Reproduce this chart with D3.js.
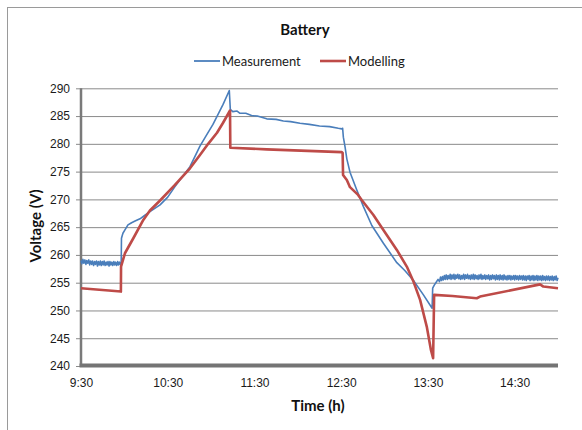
<!DOCTYPE html>
<html>
<head>
<meta charset="utf-8">
<script src="https://cdn.jsdelivr.net/npm/d3@7"></script>
<style>
  body { margin: 0; background: #fff; }
  svg { display: block; font-family: Lato, "Open Sans", sans-serif; }
</style>
</head>
<body>
<svg id="chart" width="582" height="430"></svg>
<script>
// Battery voltage over one day: measured trace vs. model output.
const chartTitle = "Battery";
const seriesNames = ["Measurement", "Modelling"];
const seriesColors = ["#4a7ebb", "#be4b48"];
const xTitle = "Time (h)";
const yTitle = "Voltage (V)";

// time is given in minutes after midnight
const timeDomain = [570, 900];
const timeTicks = [570, 630, 690, 750, 810, 870];
const voltDomain = [240, 290];
const voltTicks = [240, 245, 250, 255, 260, 265, 270, 275, 280, 285, 290];

// [minute, volts]
const measured = [
  [570, 259.0], [570.6, 258.4], [571.3, 259.2], [572, 258.5], [572.7, 259.1], [573.4, 258.3],
  [574, 259.0], [574.7, 258.5], [575.4, 259.1], [576, 258.2], [576.7, 258.9], [577.4, 258.3],
  [578, 258.9], [578.7, 258.1], [579.4, 258.8], [580, 258.3], [580.7, 258.9], [581.4, 258.0],
  [582, 258.8], [582.7, 258.2], [583.4, 258.9], [584, 258.1], [584.7, 258.8], [585.4, 258.2],
  [586, 258.9], [586.7, 258.1], [587.4, 258.7], [588, 258.2], [588.7, 258.8], [589.4, 258.0],
  [590, 258.8], [590.7, 258.2], [591.4, 258.7], [592, 258.1], [592.7, 258.8], [593.4, 258.2],
  [594, 258.7], [594.7, 258.1], [595.4, 258.8], [596, 258.2], [596.7, 258.7], [597.4, 258.2],
  [597.8, 258.4],
  [598.0, 263.0], [599.0, 263.9], [600.4, 264.5], [602.5, 265.4], [605.0, 265.8],
  [607.4, 266.1], [610.8, 266.5], [614, 267.1], [617.7, 267.8], [624.7, 269.0],
  [630, 270.4], [635, 272.3], [645.4, 275.9], [652.3, 279.6], [656, 281.2],
  [661.3, 283.5], [668.3, 287.1], [672.6, 289.6], [673.3, 286.2], [675, 285.8],
  [678, 285.9], [680, 285.5], [684, 285.5], [688, 285.1], [692, 285.0], [698.5, 284.5],
  [705, 284.4], [710, 284.1], [715, 284.0], [721.5, 283.7], [728, 283.5], [735, 283.2],
  [742, 283.1], [748, 282.8], [750.4, 282.7], [751.0, 282.8], [751.5, 281.2],
  [752.7, 279.4], [753.9, 277.3], [756.1, 274.9], [760.8, 271.7], [765.4, 268.7],
  [771.2, 265.3], [779.2, 262.1], [788.5, 258.6], [794, 257.2], [800, 255.4],
  [806.9, 252.8], [812.9, 250.4], [813.3, 254.0], [814.5, 254.6], [815.5, 255.0],
  [817, 255.6], [818, 255.2], [818.7, 256.0], [819.4, 255.4], [820, 256.1], [820.7, 255.5],
  [821.4, 256.3], [822, 255.6], [822.7, 256.4], [823.4, 255.6], [824, 256.3], [824.7, 255.7],
  [825.4, 256.5], [826, 255.6], [826.7, 256.4], [827.4, 255.7], [828, 256.5], [828.7, 255.6],
  [829.4, 256.4], [830, 255.8], [830.7, 256.5], [831.4, 255.7], [832, 256.4], [832.7, 255.6],
  [833.4, 256.3], [834, 255.7], [834.7, 256.5], [835.4, 255.6], [836, 256.4], [836.7, 255.8],
  [837.4, 256.5], [838, 255.7], [838.7, 256.3], [839.4, 255.6], [840, 256.4], [840.7, 255.7],
  [841.4, 256.5], [842, 255.6], [842.7, 256.4], [843.4, 255.7], [844, 256.3], [844.7, 255.6],
  [845.4, 256.4], [846, 255.7], [846.7, 256.5], [847.4, 255.6], [848, 256.3], [848.7, 255.7],
  [849.4, 256.4], [850, 255.6], [850.7, 256.3], [851.4, 255.7], [852, 256.4], [852.7, 255.5],
  [853.4, 256.3], [854, 255.6], [854.7, 256.4], [855.4, 255.7], [856, 256.3], [856.7, 255.5],
  [857.4, 256.4], [858, 255.6], [858.7, 256.3], [859.4, 255.5], [860, 256.4], [860.7, 255.6],
  [861.4, 256.3], [862, 255.5], [862.7, 256.4], [863.4, 255.6], [864, 256.2], [864.7, 255.5],
  [865.4, 256.3], [866, 255.6], [866.7, 256.3], [867.4, 255.5], [868, 256.2], [868.7, 255.6],
  [869.4, 256.3], [870, 255.5], [870.7, 256.3], [871.4, 255.6], [872, 256.2], [872.7, 255.5],
  [873.4, 256.3], [874, 255.6], [874.7, 256.2], [875.4, 255.5], [876, 256.3], [876.7, 255.5],
  [877.4, 256.2], [878, 255.4], [878.7, 256.2], [879.4, 255.6], [880, 256.3], [880.7, 255.4],
  [881.4, 256.2], [882, 255.5], [882.7, 256.3], [883.4, 255.4], [884, 256.2], [884.7, 255.5],
  [885.4, 256.3], [886, 255.4], [886.7, 256.2], [887.4, 255.5], [888, 256.2], [888.7, 255.4],
  [889.4, 256.3], [890, 255.5], [890.7, 256.1], [891.4, 255.4], [892, 256.2], [892.7, 255.5],
  [893.4, 256.2], [894, 255.4], [894.7, 256.1], [895.4, 255.5], [896, 256.2], [896.7, 255.4],
  [897.4, 256.1], [898, 255.5], [898.7, 256.2], [899.4, 255.4], [900, 255.9]
];

const modelled = [
  [570, 254.0], [597.6, 253.4], [597.7, 257.9], [600.4, 260.3], [606.2, 263.0],
  [613.1, 266.3], [617.7, 268.0], [624.7, 269.8], [635, 272.6], [645.4, 275.6],
  [652.3, 278.0], [658, 280.0], [664.1, 282.0], [668.3, 283.8], [673.1, 286.0], [673.3, 279.3],
  [698.5, 279.0], [750.4, 278.5], [751.0, 278.4], [751.3, 274.4], [753.9, 273.5],
  [756.1, 272.2], [761.7, 270.8], [764.2, 269.9], [772.3, 267.2], [779.2, 264.5],
  [788.5, 260.9], [795.4, 257.9], [800.0, 255.2], [804.6, 251.9], [809.2, 247.1],
  [812.0, 243.0], [813.6, 241.4], [814.3, 252.8], [827, 252.6], [843.8, 252.2],
  [846.1, 252.5], [887.6, 254.7], [889.9, 254.3], [900, 254.0]
];

const svg = d3.select("#chart");
const plotLeft = 81, plotRight = 558, plotTop = 88.3, plotBottom = 366;

const x = d3.scaleLinear().domain(timeDomain).range([plotLeft, plotRight]);
const y = d3.scaleLinear().domain(voltDomain).range([plotBottom, plotTop]);

const fmtTime = m => `${Math.floor(m / 60)}:${String(m % 60).padStart(2, "0")}`;

// outer chart frame
svg.append("rect")
  .attr("x", 7.5).attr("y", 7.5).attr("width", 640).attr("height", 500)
  .attr("fill", "#fff").attr("stroke", "#9a9a9a").attr("stroke-width", 1);

// horizontal gridlines with short ticks on the left
const yAxis = d3.axisLeft(y).tickValues(voltTicks).tickSize(-(plotRight - plotLeft)).tickSizeOuter(0).tickPadding(8);
const gy = svg.append("g").attr("transform", `translate(${plotLeft},0)`).call(yAxis);
gy.select(".domain").remove();
gy.selectAll(".tick line").attr("stroke", "#8a8a8a").attr("stroke-width", 1)
  .attr("x1", -5);
gy.selectAll(".tick text").attr("fill", "#1a1a1a").style("font-size", "12px")
  .attr("x", -11);

// axis lines
svg.append("line").attr("x1", plotLeft).attr("x2", plotLeft).attr("y1", plotTop).attr("y2", plotBottom)
  .attr("stroke", "#7a7a7a").attr("stroke-width", 2.5);

const xAxis = d3.axisBottom(x).tickValues(timeTicks).tickFormat(fmtTime).tickSize(0).tickPadding(12);
const gx = svg.append("g").attr("transform", `translate(0,${plotBottom})`).call(xAxis);
gx.select(".domain").remove();
gx.selectAll(".tick text").attr("fill", "#1a1a1a").style("font-size", "12px");

svg.append("line").attr("x1", plotLeft - 1.5).attr("x2", plotRight).attr("y1", plotBottom - 0.5).attr("y2", plotBottom - 0.5)
  .attr("stroke", "#747474").attr("stroke-width", 4);

// series lines
const line = d3.line().x(d => x(d[0])).y(d => y(d[1]));
svg.append("path").datum(measured).attr("d", line)
  .attr("fill", "none").attr("stroke", seriesColors[0]).attr("stroke-width", 1.6)
  .attr("stroke-linejoin", "round");
svg.append("path").datum(modelled).attr("d", line)
  .attr("fill", "none").attr("stroke", seriesColors[1]).attr("stroke-width", 2.6)
  .attr("stroke-linejoin", "round");

// title
svg.append("text").attr("x", 305).attr("y", 35).attr("text-anchor", "middle")
  .style("font-size", "15px").style("font-weight", "bold").attr("fill", "#111")
  .text(chartTitle);

// legend
const legendItems = [
  { name: seriesNames[0], color: seriesColors[0], x: 194, w: 1.8 },
  { name: seriesNames[1], color: seriesColors[1], x: 320, w: 2.6 }
];
const lg = svg.append("g");
legendItems.forEach(it => {
  lg.append("line").attr("x1", it.x).attr("x2", it.x + 26).attr("y1", 61).attr("y2", 61)
    .attr("stroke", it.color).attr("stroke-width", it.w);
  lg.append("text").attr("x", it.x + 28).attr("y", 65.5)
    .style("font-size", "13px").attr("fill", "#1a1a1a").text(it.name);
});

// axis titles
svg.append("text").attr("x", 318).attr("y", 411).attr("text-anchor", "middle")
  .style("font-size", "15px").style("font-weight", "bold").attr("fill", "#111")
  .text(xTitle);
svg.append("text").attr("transform", "translate(41,226) rotate(-90)").attr("text-anchor", "middle")
  .style("font-size", "15px").style("font-weight", "bold").attr("fill", "#111")
  .text(yTitle);
</script>
</body>
</html>
